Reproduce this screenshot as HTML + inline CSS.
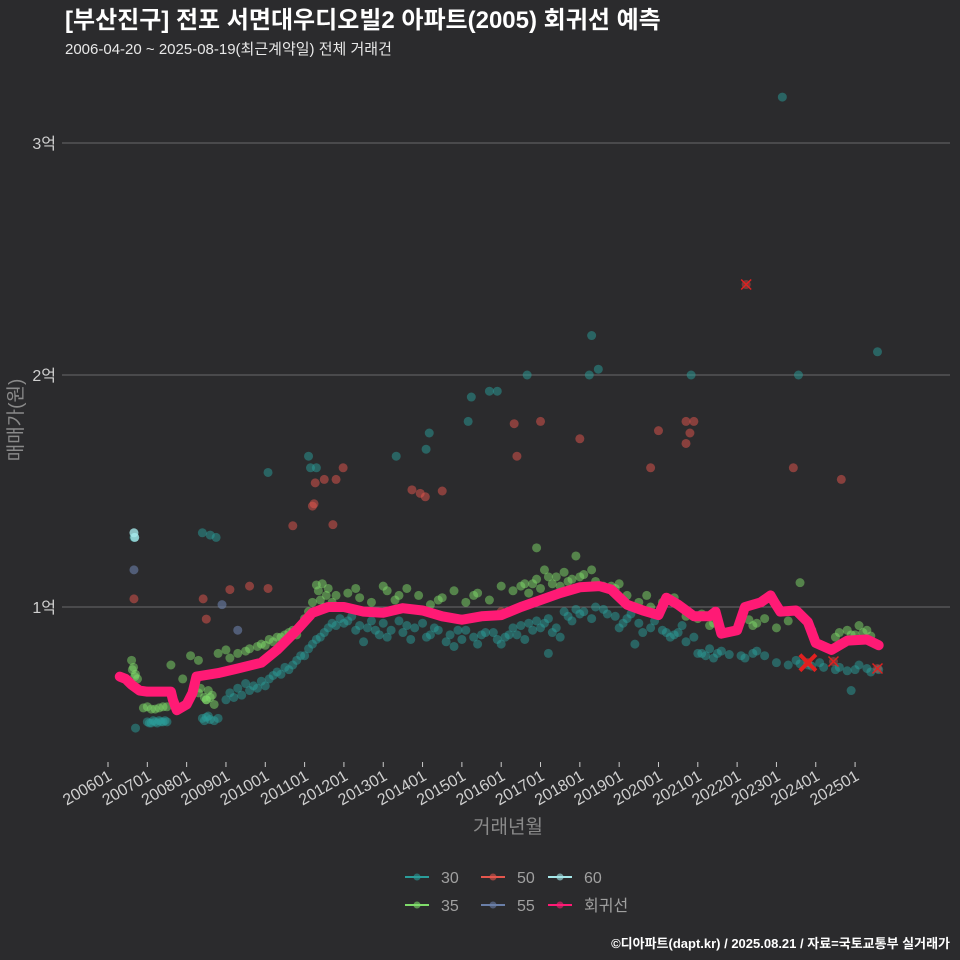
<!DOCTYPE html>
<html><head><meta charset="utf-8">
<style>
html,body{margin:0;padding:0;background:#2b2b2d;overflow:hidden;}
svg{display:block;}
svg text{font-family:"Liberation Sans","Noto Sans CJK KR",sans-serif;}
</style></head>
<body>
<svg id="chart" width="960" height="960" viewBox="0 0 960 960" xmlns="http://www.w3.org/2000/svg">
<rect width="960" height="960" fill="#2b2b2d"/>
<text x="65" y="28" fill="#ffffff" font-size="24" font-weight="bold">[부산진구] 전포 서면대우디오빌2 아파트(2005) 회귀선 예측</text>
<text x="65" y="54" fill="#e8e8e8" font-size="15">2006-04-20 ~ 2025-08-19(최근계약일) 전체 거래건</text>
<g id="grid"></g>
<g id="pts"></g>
<g id="line"></g>
<g id="marks"></g>
<g id="axes"></g>
<text transform="translate(22,420) rotate(-90)" text-anchor="middle" fill="#8a8a8a" font-size="19">매매가(원)</text>
<text x="508" y="833" text-anchor="middle" fill="#8a8a8a" font-size="19">거래년월</text>
<g id="legend"></g>
<text x="950" y="948" text-anchor="end" fill="#ffffff" font-size="13" font-weight="bold">©디아파트(dapt.kr) / 2025.08.21 / 자료=국토교통부 실거래가</text>
</svg>
<script>
// ---- data (values in 만원, time in decimal years) ----
const xTickLabels=["200601","200701","200801","200901","201001","201101","201201","201301","201401","201501","201601","201701","201801","201901","202001","202101","202201","202301","202401","202501"];
const yTickValues=[10000,20000,30000];
const yTickLabels=["1억","2억","3억"];
const lineT=[2006.3,2006.45,2006.6,2006.8,2007.0,2007.6,2007.65,2007.75,2008.0,2008.15,2008.25,2008.8,2009.3,2009.9,2010.3,2010.8,2011.2,2011.6,2012.0,2012.5,2013.0,2013.5,2014.0,2014.5,2015.0,2015.5,2016.0,2016.5,2017.0,2017.5,2018.0,2018.5,2018.8,2019.2,2019.6,2020.0,2020.2,2020.5,2020.9,2021.3,2021.45,2021.6,2022.0,2022.2,2022.6,2022.85,2022.95,2023.1,2023.5,2023.8,2024.0,2024.4,2024.8,2025.3,2025.6];
const lineV=[7000,6900,6650,6400,6350,6350,6000,5550,5800,6300,7000,7150,7350,7600,8150,9000,9750,10000,10000,9800,9750,9950,9850,9600,9450,9600,9650,10000,10300,10600,10850,10900,10750,10100,9850,9650,10400,10100,9600,9600,9800,8850,9000,10000,10200,10500,10200,9800,9850,9350,8450,8150,8550,8600,8350];
const s30T=[2006.7,2007.0,2007.1,2007.2,2007.3,2007.4,2007.5,2008.4,2008.5,2008.6,2008.8,2009.0,2009.2,2009.4,2009.6,2009.8,2010.0,2010.2,2010.4,2010.6,2010.8,2011.0,2011.2,2011.4,2011.6,2011.8,2012.0,2012.3,2012.6,2012.9,2013.2,2013.5,2013.8,2014.1,2014.4,2014.7,2015.0,2015.3,2015.6,2015.9,2016.2,2016.5,2016.8,2017.1,2017.4,2017.7,2018.0,2018.3,2018.6,2018.9,2019.2,2019.5,2019.8,2020.1,2020.4,2020.7,2021.0,2021.2,2021.5,2021.8,2022.1,2022.4,2022.7,2023.0,2023.3,2023.6,2023.9,2024.2,2024.5,2024.8,2025.0,2025.3,2025.6,2024.9,2023.15,2020.83,2023.56,2025.57,2018.3,2018.47,2018.24,2016.66,2015.7,2015.9,2015.24,2015.16,2014.17,2014.09,2013.33,2011.1,2011.3,2011.15,2010.07,2008.4,2008.6,2008.75,2006.66,2012.5,2014.8,2016.0,2017.5,2019.0,2020.2,
2007.05,2007.15,2007.25,2007.35,2007.45,2008.45,2008.55,2008.7,2009.1,2009.3,2009.5,2009.7,2009.9,2010.1,2010.3,2010.5,2010.7,2010.9,2011.1,2011.3,2011.5,2011.7,2011.9,2012.1,2012.2,2012.4,2012.7,2012.8,2013.0,2013.1,2013.4,2013.6,2013.7,2014.0,2014.2,2014.3,2014.6,2014.9,2015.1,2015.4,2015.5,2015.8,2016.1,2016.3,2016.4,2016.6,2016.7,2016.9,2017.0,2017.2,2017.3,2017.6,2017.8,2017.9,2018.1,2018.4,2018.7,2019.1,2019.3,2019.6,2019.9,2020.3,2020.5,2020.6,2020.9,2021.1,2021.3,2021.4,2021.6,2022.2,2022.5,2023.5,2023.8,2024.1,2024.6,2025.1,2025.4,2019.4,2017.2];
const s30V=[4780,5050,5000,5050,5100,5050,5050,5200,5250,5150,5200,6000,6100,6200,6400,6500,6600,7050,7100,7300,7700,7900,8400,8700,9100,9200,9300,9000,9100,8800,9000,8900,9100,8700,9000,8800,8600,8700,8900,8600,8800,9200,9000,9300,9100,9600,9700,9500,9900,9600,9500,9300,9100,9000,8800,8500,8000,7900,8000,7950,7900,8000,7900,7600,7500,7550,7450,7400,7300,7250,7300,7350,7300,6400,31980,20000,20000,21000,21700,20250,20000,20000,19300,19300,19050,18000,17500,16800,16500,16500,16000,16000,15800,13200,13100,13000,13000,8500,8300,8400,8700,9100,8900,
5000,5100,5000,5050,5100,5100,5300,5100,6300,6500,6700,6600,6800,6900,7200,7400,7500,7900,8200,8600,8900,9300,9500,9400,9600,9200,9400,9000,9300,8700,9400,9200,8600,9300,8800,9100,8500,9000,9000,8400,8800,8900,8700,9100,8800,8600,9300,9400,9100,9500,8900,9800,9400,9900,9800,10000,9700,9300,9700,8900,9400,8700,8900,9200,8700,8000,8200,7800,8100,7800,8100,7700,7500,7600,7400,7500,7200,8400,8000];
const s35T=[2006.6,2006.65,2006.7,2006.75,2006.9,2007.1,2007.3,2007.5,2007.6,2007.9,2008.1,2008.3,2008.5,2008.6,2008.8,2009.0,2009.3,2009.6,2009.9,2010.1,2010.3,2010.6,2010.8,2011.0,2011.3,2011.4,2011.6,2011.8,2012.1,2012.4,2012.7,2013.0,2013.3,2013.6,2013.9,2014.2,2014.5,2014.8,2015.1,2015.4,2015.7,2016.0,2016.3,2016.6,2016.9,2017.1,2017.4,2017.7,2018.0,2018.3,2018.6,2018.9,2019.2,2019.5,2019.8,2020.1,2020.4,2020.7,2021.0,2021.3,2021.6,2022.3,2022.5,2022.7,2023.0,2023.3,2023.6,2023.9,2024.5,2024.8,2025.0,2025.2,2025.4,2016.9,2017.9,2008.5,2008.7,2011.5,
2006.62,2006.68,2007.0,2007.2,2007.4,2008.3,2008.35,2008.45,2008.55,2008.65,2009.1,2009.5,2009.8,2010.0,2010.2,2010.4,2010.5,2010.7,2011.1,2011.2,2011.35,2011.45,2011.55,2011.7,2012.3,2013.1,2013.4,2014.4,2015.3,2016.5,2016.7,2016.8,2017.0,2017.2,2017.3,2017.5,2017.6,2017.8,2018.1,2018.4,2018.8,2019.0,2019.7,2020.2,2021.1,2021.4,2022.4,2024.6,2024.9,2025.1,2025.3];
const s35V=[7700,7400,7100,6900,5650,5600,5650,5700,7500,6900,7900,7700,6000,6100,8000,8150,8000,8200,8400,8600,8700,8900,8800,9500,10950,10300,10800,10500,10600,10400,10200,10900,10300,10800,10500,10100,10400,10700,10200,10600,10300,10900,10700,11000,11200,11600,11300,11100,11300,11600,10900,10800,10500,10200,10000,10200,10400,9600,9500,9200,9000,9450,9300,9500,9100,9400,11050,9000,8700,9000,8800,8900,8750,12550,12200,6000,5800,10000,
7300,7000,5700,5600,5700,6300,6500,6100,6400,6200,7800,8100,8300,8350,8500,8700,8800,9000,9800,10200,10700,11000,10500,10200,10800,10700,10500,10300,10500,10900,10600,11000,10800,11300,11000,10900,11500,11200,11400,11100,10900,11000,10500,10300,9700,9300,9200,8900,8800,9200,9000];
const s50T=[2016.0,2020.0,2020.7,2020.9,2020.8,2020.7,2019.8,2018.0,2017.0,2016.33,2016.4,2023.43,2024.65,2014.5,2013.73,2013.94,2014.07,2011.98,2011.8,2011.5,2011.27,2011.24,2011.2,2010.7,2011.72,2006.66,2008.42,2009.1,2009.6,2010.07,2008.5];
const s50V=[9800,17600,18000,18000,17500,17050,16000,17250,18000,17900,16500,16000,15500,15000,15050,14900,14750,16000,15500,15500,15350,14450,14350,13500,13550,10350,10350,10750,10900,10800,9480];
const s55T=[2006.66,2009.3,2008.9];
const s55V=[11600,9000,10100];
const s60T=[2006.66,2006.68];
const s60V=[13200,13000];
const xMarkT=[2022.23,2023.8,2024.45,2025.57];
const xMarkV=[23900,7600,7650,7350];
const xMarkR=[5,8,5,5];

// ---- scales ----
const X=t=>108+(t-2006)*39.32;
const Y=v=>607-(v-10000)*0.0232;
const NS="http://www.w3.org/2000/svg";
function mk(tag,attrs,parent){const e=document.createElementNS(NS,tag);for(const k in attrs)e.setAttribute(k,attrs[k]);parent.appendChild(e);return e;}
const grid=document.getElementById('grid'),axes=document.getElementById('axes');
yTickValues.forEach((v,i)=>{
  const l=mk('line',{x1:62,x2:950,y1:Y(v),y2:Y(v),stroke:'#6a6a6a','stroke-width':1},grid);
  
  
  const t=mk('text',{x:56,y:Y(v)+6,'text-anchor':'end',fill:'#d0d0d0','font-size':16},axes);
  t.textContent=yTickLabels[i];
  
  
});
xTickLabels.forEach((lab,i)=>{
  const x=X(2006+i);
  const tk=mk('line',{x1:x,x2:x,y1:762,y2:767,stroke:'#cccccc','stroke-width':1},axes);
  
  
  const t=mk('text',{x:x+5,y:779,'text-anchor':'end',fill:'#d0d0d0','font-size':16,transform:`rotate(-30 ${x+5} 779)`},axes);
  t.textContent=lab;
  
  
});
const pts=document.getElementById('pts');
function series(T,V,col,op,name){T.forEach((t,i)=>{
  const c=mk('circle',{cx:X(t),cy:Y(V[i]),r:4.5,fill:col,'fill-opacity':op},pts);
  
  
});}
series(s30T,s30V,'#2a9d9a',0.5,'point-30');
series(s35T,s35V,'#7fdc6a',0.5,'point-35');
series(s50T,s50V,'#e5564d',0.5,'point-50');
series(s55T,s55V,'#6a7fa8',0.6,'point-55');
series(s60T,s60V,'#a6e8ea',0.8,'point-60');
const lp=mk('polyline',{points:lineT.map((t,i)=>X(t)+','+Y(lineV[i])).join(' '),fill:'none',stroke:'#ff1a75','stroke-width':10,'stroke-linejoin':'round','stroke-linecap':'round'},document.getElementById('line'));


const marks=document.getElementById('marks');
xMarkT.forEach((t,i)=>{const x=X(t),y=Y(xMarkV[i]),r=xMarkR[i];
  const c=mk('circle',{cx:x,cy:y,r:4.5,fill:'#e5564d','fill-opacity':0.4},marks);
  
  
  const g=mk('path',{d:`M${x-r} ${y-r}L${x+r} ${y+r}M${x-r} ${y+r}L${x+r} ${y-r}`,stroke:'#e02020','stroke-width':r>6?4:1.5,fill:'none'},marks);
  
  
});
const leg=document.getElementById('legend');
const legItems=[["30","#2a9d9a",405,877],["50","#e5564d",481,877],["60","#a6e8ea",548,877],["35","#7fdc6a",405,905],["55","#6a7fa8",481,905],["회귀선","#ff1a75",548,905]];
legItems.forEach(([lab,col,x,y])=>{
  const g=mk('g',{},leg);
  
  
  mk('line',{x1:x,x2:x+24,y1:y,y2:y,stroke:col,'stroke-width':2},g);
  mk('circle',{cx:x+12,cy:y,r:3.5,fill:col,'fill-opacity':0.6},g);
  const t=mk('text',{x:x+36,y:y+6,fill:'#a0a0a0','font-size':16},g);
  t.textContent=lab;
});
</script>
</body></html>
